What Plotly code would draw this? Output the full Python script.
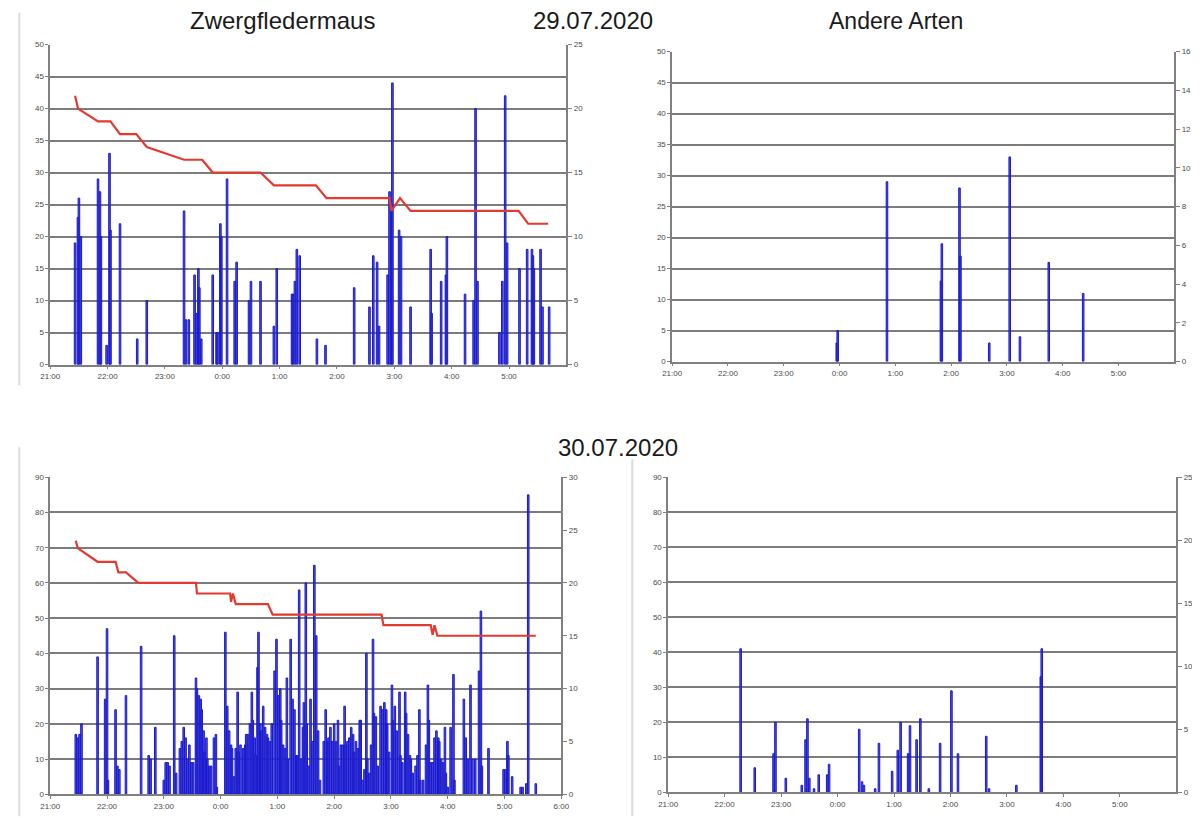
import plotly.graph_objects as go
from datetime import datetime, timedelta

# ---------------- data ----------------
# 29.07.2020 - Zwergfledermaus (counts, left axis) and temperature (right axis)
tl_times = ["21:26", "21:29", "21:30", "21:32", "21:50", "21:52", "21:53", "21:59", "22:02", "22:03",
            "22:13", "22:31", "22:41", "23:20", "23:22", "23:25", "23:31", "23:33", "23:35", "23:36",
            "23:38", "23:50", "23:54", "23:55", "23:58", "23:59", "0:05", "0:13", "0:15", "0:28",
            "0:30", "0:40", "0:54", "0:57", "1:13", "1:14", "1:16", "1:18", "1:21", "1:39",
            "1:48", "2:18", "2:34", "2:38", "2:42", "2:44", "2:53", "2:55", "2:57", "2:58",
            "3:05", "3:07", "3:17", "3:38", "3:39", "3:49", "3:54", "3:55", "4:14", "4:23",
            "4:25", "4:27", "4:50", "4:53", "4:56", "4:58", "5:11", "5:19", "5:24", "5:25",
            "5:26", "5:33", "5:35", "5:42"]
tl_counts = [19, 23, 26, 20, 29, 27, 20, 3, 33, 21,
             22, 4, 10, 24, 7, 7, 14, 8, 15, 12,
             4, 14, 5, 5, 22, 20, 29, 13, 16, 10,
             13, 13, 6, 15, 11, 11, 13, 18, 17, 4,
             3, 12, 9, 17, 16, 6, 14, 27, 25, 44,
             21, 20, 9, 18, 8, 13, 14, 20, 11, 10,
             40, 13, 5, 13, 42, 19, 15, 18, 18, 17,
             15, 18, 9, 9]
tl_temp_times = ["21:26", "21:29", "21:50", "22:03", "22:13", "22:30", "22:41", "23:20", "23:39",
                 "23:50", "0:40", "0:54", "1:38", "1:49", "2:55", "2:57", "3:06", "3:17",
                 "5:10", "5:20", "5:41"]
tl_temps = [21, 20, 19, 19, 18, 18, 17, 16, 16,
            15, 15, 14, 14, 13, 13, 12, 13, 12,
            12, 11, 11]

# 29.07.2020 - Andere Arten
tr_times = ["23:57", "23:58", "0:51", "1:49", "1:50", "2:09", "2:10", "2:41", "3:03", "3:14",
            "3:45", "4:22"]
tr_counts = [3, 5, 29, 13, 19, 28, 17, 3, 33, 4, 16, 11]

# 30.07.2020 - Zwergfledermaus
bl_times = ["21:27", "21:29", "21:31", "21:33", "21:50", "21:58", "22:00", "22:01", "22:09", "22:11",
            "22:13", "22:20", "22:36", "22:44", "22:46", "22:51", "23:00", "23:02", "23:04", "23:06",
            "23:11", "23:13", "23:17", "23:19", "23:21", "23:23", "23:25", "23:27", "23:29", "23:31",
            "23:34", "23:35", "23:37", "23:39", "23:40", "23:42", "23:43", "23:45", "23:46", "23:48",
            "23:50", "23:53", "23:55", "23:56", "0:05", "0:07", "0:09", "0:11", "0:12", "0:14",
            "0:16", "0:18", "0:19", "0:21", "0:24", "0:26", "0:27", "0:29", "0:31", "0:33",
            "0:34", "0:36", "0:37", "0:39", "0:40", "0:42", "0:43", "0:45", "0:47", "0:49",
            "0:50", "0:52", "0:54", "0:57", "0:59", "1:01", "1:03", "1:04", "1:06", "1:08",
            "1:10", "1:11", "1:14", "1:16", "1:18", "1:20", "1:21", "1:23", "1:25", "1:27",
            "1:28", "1:30", "1:31", "1:33", "1:35", "1:37", "1:39", "1:41", "1:43", "1:45",
            "1:49", "1:51", "1:53", "1:54", "1:56", "1:58", "2:00", "2:02", "2:04", "2:05",
            "2:07", "2:09", "2:11", "2:12", "2:14", "2:16", "2:18", "2:20", "2:21", "2:23",
            "2:25", "2:27", "2:28", "2:30", "2:32", "2:34", "2:35", "2:37", "2:39", "2:41",
            "2:42", "2:44", "2:46", "2:49", "2:51", "2:53", "2:55", "2:56", "2:58", "3:01",
            "3:02", "3:04", "3:06", "3:09", "3:10", "3:12", "3:15", "3:16", "3:18", "3:20",
            "3:21", "3:23", "3:26", "3:28", "3:30", "3:31", "3:34", "3:37", "3:39", "3:40",
            "3:42", "3:44", "3:46", "3:48", "3:50", "3:51", "3:53", "3:55", "3:57", "3:58",
            "4:00", "4:03", "4:06", "4:07", "4:17", "4:19", "4:21", "4:24", "4:26", "4:29",
            "4:33", "4:35", "4:36", "4:43", "4:59", "5:01", "5:03", "5:04", "5:08", "5:17",
            "5:19", "5:23", "5:25", "5:33"]
bl_counts = [17, 16, 17, 20, 39, 27, 47, 4, 24, 8,
             7, 28, 42, 11, 10, 19, 4, 9, 9, 8,
             45, 6, 13, 15, 19, 16, 10, 14, 9, 9,
             33, 30, 28, 27, 24, 18, 12, 16, 10, 8,
             8, 16, 17, 2, 46, 25, 18, 14, 13, 5,
             13, 29, 12, 14, 13, 14, 17, 17, 20, 29,
             21, 16, 11, 36, 46, 20, 18, 25, 19, 17,
             16, 15, 20, 35, 44, 28, 30, 21, 14, 13,
             33, 10, 44, 27, 24, 11, 11, 58, 10, 19,
             26, 60, 20, 8, 27, 15, 65, 45, 18, 4,
             15, 24, 15, 16, 19, 15, 20, 15, 21, 8,
             14, 14, 25, 14, 15, 16, 19, 17, 12, 15,
             13, 21, 21, 4, 7, 40, 10, 6, 14, 44,
             23, 22, 8, 25, 24, 26, 24, 20, 12, 31,
             21, 25, 18, 29, 11, 9, 29, 23, 17, 11,
             10, 6, 8, 11, 24, 4, 4, 14, 31, 21,
             9, 9, 16, 18, 16, 15, 10, 9, 19, 6,
             2, 19, 34, 4, 27, 16, 10, 31, 10, 10,
             35, 52, 8, 13, 7, 7, 15, 11, 5, 2,
             2, 3, 85, 3]
bl_temp_times = ["21:27", "21:29", "21:50", "22:09", "22:12", "22:20", "22:33", "23:34", "23:35",
                 "0:10", "0:11", "0:13", "0:16", "0:50", "0:55", "2:50", "2:52", "3:42",
                 "3:44", "3:46", "3:49", "5:33"]
bl_temps = [24, 23.3, 22, 22, 21, 21, 20, 20, 19,
            19, 18.2, 19, 18, 18, 17, 17, 16, 16,
            15.1, 16, 15, 15]

# 30.07.2020 - Andere Arten
br_times = ["22:17", "22:32", "22:52", "22:54", "23:05", "23:22", "23:26", "23:28", "23:30", "23:35",
            "23:40", "23:49", "23:51", "0:23", "0:26", "0:28", "0:40", "0:44", "0:58", "1:04",
            "1:07", "1:15", "1:17", "1:24", "1:28", "1:37", "1:49", "2:01", "2:08", "2:38",
            "2:41", "3:10", "3:36", "3:37"]
br_counts = [41, 7, 11, 20, 4, 2, 15, 21, 4, 1,
             5, 5, 8, 18, 3, 2, 1, 14, 6, 12,
             20, 11, 19, 15, 21, 1, 14, 29, 11, 16,
             1, 2, 33, 41]

hour_labels = ["21:00", "22:00", "23:00", "0:00", "1:00", "2:00", "3:00", "4:00", "5:00", "6:00"]

titles = ["Zwergfledermaus", "29.07.2020", "Andere Arten", "30.07.2020"]

# ---------------- helpers ----------------
W, H = 1200, 818
night1 = datetime(2020, 7, 29)
night2 = datetime(2020, 7, 30)

# compensation of the page offset/scale observed when the page is photographed
SX, OX = 0.9867, 16.7
SY, OY = 0.992, 11.35


def lx(X):
    return (X - OX) / SX


def ly(Y):
    return (Y - OY) / SY


def to_dt(times, base):
    out = []
    for t in times:
        h, m = map(int, t.split(":"))
        d = base if h >= 12 else base + timedelta(days=1)
        out.append(d.replace(hour=h, minute=m))
    return out


def tick_vals(base, n):
    start = base.replace(hour=21)
    return [start + timedelta(hours=i) for i in range(n)]


def xd(a, b):
    return [lx(a) / W, lx(b) / W]


def yd(top, bottom):
    return [1 - ly(bottom) / H, 1 - ly(top) / H]


BAR_FILL = "rgba(52,52,225,0.85)"
BAR_EDGE = "#1a1acc"
RED = "#e33a30"
GRID = "#7c7c7c"
AX = "#808080"
TXT = "#4a4a4a"
TICKFONT = dict(family="Liberation Sans, Arial, sans-serif", size=8, color=TXT)
BAR_W = 100000  # ms

fig = go.Figure()


def add_bars(times, counts, base, xa, ya):
    fig.add_trace(go.Bar(x=to_dt(times, base), y=counts, width=BAR_W,
                         marker=dict(color=BAR_FILL, line=dict(color=BAR_EDGE, width=1)),
                         xaxis=xa, yaxis=ya, showlegend=False, hoverinfo="skip"))


def add_temp(times, temps, base, xa, ya):
    fig.add_trace(go.Scatter(x=to_dt(times, base), y=temps, mode="lines",
                             line=dict(color=RED, width=2.2), xaxis=xa, yaxis=ya,
                             showlegend=False, hoverinfo="skip"))


def add_empty(xa, ya):
    fig.add_trace(go.Scatter(x=[], y=[], mode="lines", xaxis=xa, yaxis=ya,
                             showlegend=False, hoverinfo="skip"))


add_bars(tl_times, tl_counts, night1, "x", "y")
add_temp(tl_temp_times, tl_temps, night1, "x", "y2")
add_bars(tr_times, tr_counts, night1, "x2", "y3")
add_empty("x2", "y4")
add_bars(bl_times, bl_counts, night2, "x3", "y5")
add_temp(bl_temp_times, bl_temps, night2, "x3", "y6")
add_bars(br_times, br_counts, night2, "x4", "y7")
add_empty("x4", "y8")


def xaxis(dom, anchor, base, nlab):
    tv = tick_vals(base, 10)
    return dict(domain=dom, anchor=anchor, type="date",
                range=[base.replace(hour=21), base.replace(hour=21) + timedelta(hours=9)],
                tickvals=tv[:nlab], ticktext=hour_labels[:nlab],
                showline=True, linecolor=AX, linewidth=1.5, ticks="outside", ticklen=3,
                tickcolor=AX, showgrid=False, zeroline=False, tickfont=TICKFONT, fixedrange=True)


def yleft(dom, anchor, top, step):
    return dict(domain=dom, anchor=anchor, range=[0, top], tick0=0, dtick=step,
                showgrid=True, gridcolor=GRID, gridwidth=1.6, showline=True, linecolor=AX,
                linewidth=1.5, ticks="outside", ticklen=3, tickcolor=AX, zeroline=False,
                tickfont=TICKFONT, fixedrange=True)


def yright(over, anchor, top, step):
    return dict(overlaying=over, anchor=anchor, side="right", range=[0, top], tick0=0, dtick=step,
                showgrid=False, showline=True, linecolor=AX, linewidth=1.5, ticks="outside",
                ticklen=4, tickcolor=AX, zeroline=False, tickfont=TICKFONT, fixedrange=True)


fig.update_layout(
    width=W, height=H, margin=dict(l=0, r=0, t=0, b=0),
    paper_bgcolor="white", plot_bgcolor="white", showlegend=False, barmode="overlay",
    xaxis=xaxis(xd(49, 566), "y", night1, 9),
    yaxis=yleft(yd(44, 365), "x", 50, 5),
    yaxis2=yright("y", "x", 25, 5),
    xaxis2=xaxis(xd(672, 1175), "y3", night1, 9),
    yaxis3=yleft(yd(51, 362), "x2", 50, 5),
    yaxis4=yright("y3", "x2", 16, 2),
    xaxis3=xaxis(xd(49, 561), "y5", night2, 10),
    yaxis5=yleft(yd(478, 796), "x3", 90, 10),
    yaxis6=yright("y5", "x3", 30, 5),
    xaxis4=xaxis(xd(668, 1177), "y7", night2, 9),
    yaxis7=yleft(yd(478, 794), "x4", 90, 10),
    yaxis8=yright("y7", "x4", 25, 5),
)

title_pos = [(282, 20, 24), (593, 20, 24), (896, 20, 23), (618, 448, 24)]
for txt, (px, py, fs) in zip(titles, title_pos):
    fig.add_annotation(text=txt, x=lx(px) / W, y=1 - ly(py) / H, xref="paper", yref="paper",
                       showarrow=False, xanchor="center", yanchor="middle",
                       font=dict(family="Liberation Sans, Arial, sans-serif", size=fs, color="#1a1a1a"))

# faint frame borders of the original panels
for (px, top, bottom) in [(18, 12, 386), (18, 448, 818), (632, 460, 818)]:
    fig.add_shape(type="line", xref="paper", yref="paper", x0=max(lx(px), 1) / W, x1=max(lx(px), 1) / W,
                  y0=max(0, 1 - ly(bottom) / H), y1=1 - ly(top) / H, line=dict(color="#dcdcdc", width=2))

fig.write_html("out.html")
